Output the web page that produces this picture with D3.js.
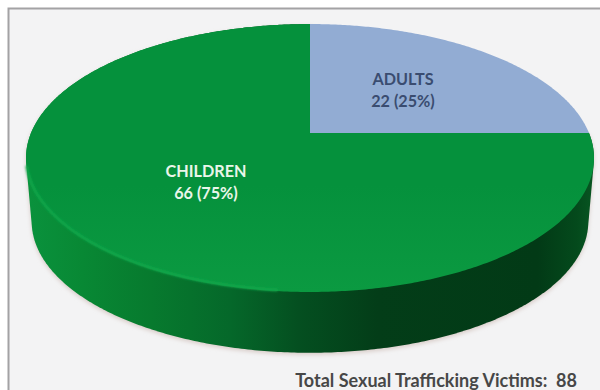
<!DOCTYPE html>
<html>
<head>
<meta charset="utf-8">
<script src="https://cdn.jsdelivr.net/npm/d3@7/dist/d3.min.js"></script>
<style>
  html, body { margin: 0; padding: 0; background: #fff; }
  svg { display: block; }
  text { font-family: Lato, "Open Sans", sans-serif; }
</style>
</head>
<body>
<svg id="chart" width="600" height="390"></svg>
<script>
const categories = ["ADULTS", "CHILDREN"];
const values = [22, 66];
const sliceColors = ["#92acd3", "#05913c"];
const labelColors = ["#3a4c70", "#eaf6ea"];
const totalLabel = "Total Sexual Trafficking Victims:";

const width = 600, height = 390;
const svg = d3.select("#chart");
const defs = svg.append("defs");

// Perspective projection of the pie disc onto the page
const disc = { cx: 310, cy: 133, rx: 279, ry: 129.3, k: -0.1866 };
const wall = { drop: 64, shrink: 0.98 };

function project(angle, drop = 0, scale = 1) {
  const u = Math.sin(angle), v = -Math.cos(angle);
  const w = 1 + disc.k * v;
  return [
    disc.cx + scale * disc.rx * u / w,
    disc.cy + drop + scale * disc.ry * v / w
  ];
}
const arcSamples = (a0, a1) => {
  const n = Math.max(2, Math.ceil(Math.abs(a1 - a0) / 0.01));
  return d3.range(n + 1).map(i => a0 + (a1 - a0) * i / n);
};
const line = d3.line();

const slices = d3.pie().sort(null).value(d => d)(values);
const total = d3.sum(values);
const percent = d3.format(".0%");

// Frame
svg.append("rect").attr("width", width).attr("height", height).attr("fill", "#ffffff");
svg.append("rect").attr("x", 8).attr("y", 9).attr("width", width - 8).attr("height", height - 9)
  .attr("fill", "#f3f3f4");
svg.append("path").attr("d", `M8.5,${height}V8.5H${width}`)
  .attr("fill", "none").attr("stroke", "#a3a2a4").attr("stroke-width", 2);

// Gradients
const wallGrad = defs.append("linearGradient").attr("id", "wallGrad")
  .attr("gradientUnits", "userSpaceOnUse")
  .attr("x1", 26).attr("x2", 594).attr("y1", 0).attr("y2", 0);
[[0, "#0a923d"], [0.1, "#088834"], [0.22, "#077a2e"], [0.36, "#05682a"], [0.48, "#044f20"],
 [0.62, "#033d18"], [0.9, "#023a16"], [0.97, "#044a1c"], [1, "#085622"]]
  .forEach(([o, c]) => wallGrad.append("stop").attr("offset", o).attr("stop-color", c));

const faceGrad = defs.append("linearGradient").attr("id", "faceGrad")
  .attr("gradientUnits", "userSpaceOnUse")
  .attr("x1", 0).attr("x2", 0).attr("y1", 24).attr("y2", 292);
[[0, sliceColors[1]], [0.6, sliceColors[1]], [1, "#0b9a41"]]
  .forEach(([o, c]) => faceGrad.append("stop").attr("offset", o).attr("stop-color", c));

const shadow = defs.append("filter").attr("id", "soft")
  .attr("x", "-5%").attr("y", "-5%").attr("width", "110%").attr("height", "115%");
shadow.append("feGaussianBlur").attr("stdDeviation", 2);

const edgeBlur = defs.append("filter").attr("id", "edge")
  .attr("x", "-5%").attr("y", "-5%").attr("width", "110%").attr("height", "110%");
edgeBlur.append("feGaussianBlur").attr("stdDeviation", 1.2);

const children = slices[1], adults = slices[0];
const g = svg.append("g");

// Silhouette of the side wall: hull of the upper and lower rims of the children slice
const wallHull = d3.polygonHull(
  arcSamples(children.startAngle, children.endAngle).flatMap(a => [
    project(a),
    project(a, wall.drop, wall.shrink)
  ])
);

// Soft shadow below the disc
g.append("path")
  .attr("d", line(wallHull) + "Z")
  .attr("transform", "translate(0,2)")
  .attr("fill", "#d8ccc8").attr("filter", "url(#soft)");

g.append("path")
  .attr("d", line(wallHull) + "Z")
  .attr("fill", "url(#wallGrad)");

// Top faces of the slices
const slicePath = s => line(
  [[disc.cx, disc.cy]].concat(arcSamples(s.startAngle, s.endAngle).map(a => project(a)))
) + "Z";

g.append("path").attr("d", slicePath(children)).attr("fill", "url(#faceGrad)");

// Bright bevel along the front-left rim of the green face
g.append("path")
  .attr("d", line(arcSamples(Math.PI * 1.03, Math.PI * 1.42).map(a => project(a, -1))))
  .attr("fill", "none").attr("stroke", "#12a84c").attr("stroke-width", 2.5)
  .attr("filter", "url(#edge)");

g.append("path").attr("d", slicePath(adults)).attr("fill", sliceColors[0]);

// Slice labels
const labelPos = [[403, 85], [206, 177]];
slices.forEach((s, i) => {
  const t = svg.append("text")
    .attr("text-anchor", "middle")
    .attr("fill", labelColors[i])
    .attr("font-size", 16.2)
    .attr("font-weight", 700);
  t.append("tspan").attr("x", labelPos[i][0]).attr("y", labelPos[i][1]).text(categories[i]);
  t.append("tspan").attr("x", labelPos[i][0]).attr("y", labelPos[i][1] + 22)
    .text(`${s.value} (${percent(s.value / total)})`);
});

// Total line
svg.append("text")
  .attr("x", 577).attr("y", 387)
  .attr("text-anchor", "end")
  .attr("fill", "#474747")
  .attr("font-size", 18)
  .attr("font-weight", 700)
  .attr("xml:space", "preserve")
  .text(`${totalLabel}  ${total}`);
</script>
</body>
</html>
